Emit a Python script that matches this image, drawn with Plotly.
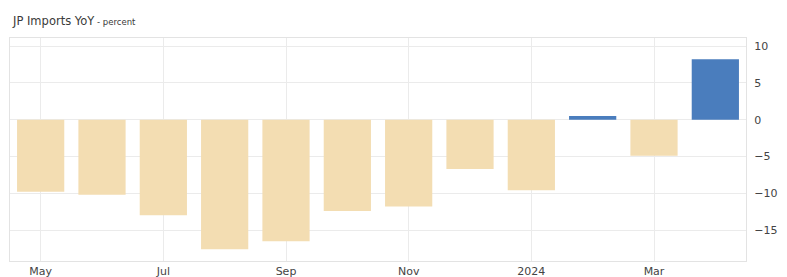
import plotly.graph_objects as go

months = ["2023-05", "2023-06", "2023-07", "2023-08", "2023-09", "2023-10",
          "2023-11", "2023-12", "2024-01", "2024-02", "2024-03", "2024-04"]
values = [-9.8, -10.2, -13.0, -17.6, -16.5, -12.4, -11.8, -6.7, -9.6, 0.5, -4.9, 8.2]
tick_months = ["2023-05", "2023-07", "2023-09", "2023-11", "2024-01", "2024-03"]
tick_labels = ["May", "Jul", "Sep", "Nov", "2024", "Mar"]
y_ticks = [-15, -10, -5, 0, 5, 10]

colors = ["#4a7dbd" if v >= 0 else "#f3ddb2" for v in values]

fig = go.Figure(go.Bar(x=months, y=values, marker=dict(color=colors, line=dict(width=0)),
                       width=0.77))

fig.update_layout(
    width=787, height=277,
    margin=dict(l=2, r=49, t=30, b=24, autoexpand=False),
    paper_bgcolor="white", plot_bgcolor="white",
    showlegend=False,
    font=dict(family="DejaVu Sans, sans-serif", color="#555", size=11),
    annotations=[dict(
        text="JP Imports YoY<span style='font-size:8.5px'> - percent</span>",
        xref="paper", yref="paper", x=0, y=1.0, yshift=17,
        xanchor="left", yanchor="middle", showarrow=False,
        font=dict(size=11.5, color="#3a3a3a"))],
)
fig.update_xaxes(type="category", tickvals=tick_months, ticktext=tick_labels,
                 showgrid=True, gridcolor="#ebebeb", gridwidth=1,
                 showline=True, linecolor="#e3e3e3", mirror=True,
                 ticks="", ticklabelstandoff=0, tickfont=dict(size=11, color="#444"),
                 range=[-0.5, 11.5])
fig.update_yaxes(side="right", tickvals=y_ticks, range=[-19.2, 11.1],
                 showgrid=True, gridcolor="#ebebeb", gridwidth=1,
                 showline=True, linecolor="#e3e3e3", mirror=True,
                 zeroline=False, ticks="", ticklabelstandoff=5,
                 tickfont=dict(size=11, color="#444"))

fig.write_html("out.html")
